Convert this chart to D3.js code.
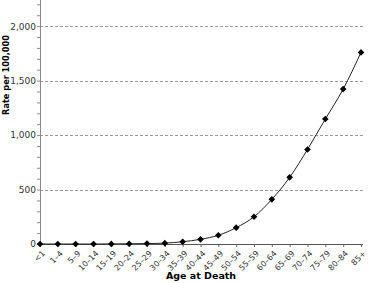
<!DOCTYPE html>
<html>
<head>
<meta charset="utf-8">
<script src="https://cdn.jsdelivr.net/npm/d3@7"></script>
<style>
  body { margin: 0; background: #fff; }
  text { font-family: "DejaVu Sans", sans-serif; }
</style>
</head>
<body>
<svg id="chart" width="368" height="283"></svg>
<script>
// age groups on the x axis
const ageGroups = ["<1", "1–4", "5–9", "10–14", "15–19", "20–24", "25–29", "30–34", "35–39",
  "40–44", "45–49", "50–54", "55–59", "60–64", "65–69", "70–74", "75–79", "80–84", "85+"];
// rate per 100,000 for each age group
const rates = [0, 0, 0, 0, 1, 2, 4, 8, 21, 43, 80, 150, 250, 410, 612, 868, 1147, 1422, 1759];
const yTicks = [0, 500, 1000, 1500, 2000];

const chartW = 368, chartH = 283;
const plotL = 40, plotR = 361, plotT = 0, plotB = 244;

const svg = d3.select("#chart");

const x = d3.scalePoint().domain(ageGroups).range([plotL, plotR]);
const y = d3.scaleLinear().domain([0, 2240]).range([plotB, plotT]);

// dashed grid lines
svg.append("g")
  .selectAll("line")
  .data(yTicks.filter(d => d > 0))
  .enter()
  .append("line")
  .attr("x1", plotL).attr("x2", plotR + 2)
  .attr("y1", d => Math.round(y(d)) + 0.5).attr("y2", d => Math.round(y(d)) + 0.5)
  .attr("stroke", "#9a9a9a")
  .attr("stroke-dasharray", "3,2")
  .attr("stroke-width", 1);

// minor ticks every 100 on y axis
const yAxisMinor = d3.axisLeft(y).tickValues(d3.range(0, 2201, 100)).tickSize(3).tickFormat("");
svg.append("g")
  .attr("transform", "translate(" + plotL + ",0)")
  .call(yAxisMinor)
  .call(g => g.selectAll("line").attr("stroke", "#8a8a8a"))
  .call(g => g.select(".domain").remove());

// y axis
const yAxis = d3.axisLeft(y).tickValues(yTicks).tickSize(0).tickPadding(4).tickFormat(d3.format(","));
svg.append("g")
  .attr("transform", "translate(" + plotL + ",0)")
  .call(yAxis)
  .call(g => g.select(".domain").attr("d", "M0.5," + plotT + "V" + plotB).attr("stroke", "#8a8a8a"))
  .call(g => g.selectAll("text").attr("font-size", 9).attr("fill", "#333")
    .attr("font-family", "DejaVu Sans, sans-serif"));

// x axis
const xAxis = d3.axisBottom(x).tickSize(3).tickPadding(3);
svg.append("g")
  .attr("transform", "translate(0," + plotB + ")")
  .call(xAxis)
  .call(g => g.select(".domain").attr("d", "M" + plotL + ",0.5H" + (plotR + 2)).attr("stroke", "#555"))
  .call(g => g.selectAll("line").attr("stroke", "#666"))
  .call(g => g.selectAll("text")
    .attr("font-size", 8)
    .attr("fill", "#333")
    .attr("font-family", "DejaVu Sans, sans-serif")
    .style("text-anchor", "end")
    .attr("x", 0)
    .attr("y", 0)
    .attr("dy", "0.35em")
    .attr("transform", "translate(3,8) rotate(-45)"));

// line
const line = d3.line()
  .x((d, i) => x(ageGroups[i]))
  .y(d => y(d))
  .curve(d3.curveMonotoneX);

svg.append("path")
  .datum(rates)
  .attr("d", line)
  .attr("fill", "none")
  .attr("stroke", "#222")
  .attr("stroke-width", 1);

// diamond markers
const diamond = d3.symbol().type(d3.symbolDiamond2).size(28);
svg.selectAll("path.pt")
  .data(rates)
  .enter()
  .append("path")
  .attr("class", "pt")
  .attr("d", diamond)
  .attr("transform", (d, i) => "translate(" + x(ageGroups[i]) + "," + y(d) + ")")
  .attr("fill", "#000");

// axis titles
svg.append("text")
  .attr("transform", "translate(9,75) rotate(-90)")
  .attr("text-anchor", "middle")
  .attr("font-family", "Liberation Sans, Arial, sans-serif")
  .attr("font-size", 8.2)
  .attr("font-weight", "bold")
  .attr("fill", "#000")
  .text("Rate per 100,000");

svg.append("text")
  .attr("x", 201)
  .attr("y", 279)
  .attr("text-anchor", "middle")
  .attr("font-family", "Liberation Sans, Arial, sans-serif")
  .attr("font-size", 9.5)
  .attr("font-weight", "bold")
  .attr("fill", "#000")
  .text("Age at Death");
</script>
</body>
</html>
